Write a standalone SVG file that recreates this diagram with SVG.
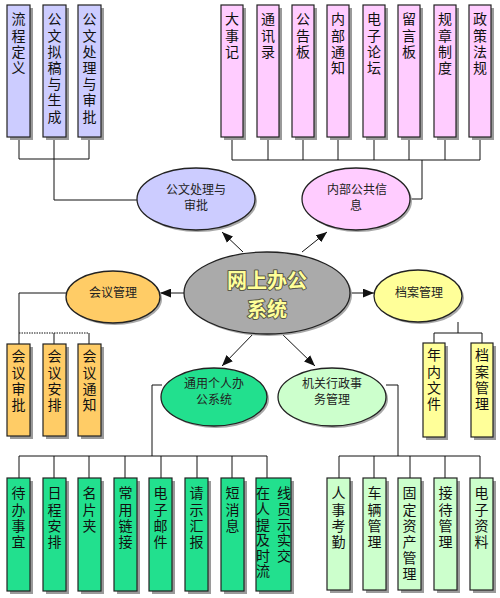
<svg xmlns="http://www.w3.org/2000/svg" width="500" height="598" viewBox="0 0 500 598">
<defs>
<style>
.box{stroke:#222;stroke-width:1.2}
.sh{fill:#9a9a9a}
.bt{font-family:"Noto Sans CJK SC","Noto Sans",sans-serif;font-size:14px;fill:#111;writing-mode:vertical-rl;letter-spacing:2.2px}
.et{font-family:"Noto Sans CJK SC","Noto Sans",sans-serif;font-size:12px;fill:#222;text-anchor:middle}
.ell{stroke:#222;stroke-width:1.3}
.esh{fill:#a8a8a8}
.ln{stroke:#111;stroke-width:1;fill:none}
.ct{font-family:"Noto Sans CJK SC","Noto Sans",sans-serif;font-size:20px;font-weight:bold;text-anchor:middle;fill:#ffff99;stroke:#5a5a4a;stroke-width:2;paint-order:stroke;stroke-linejoin:round}
.lav{fill:#ccccff}.pink{fill:#ffccff}.org{fill:#ffcc66}.yel{fill:#ffff99}.grn{fill:#22e08e}.lgr{fill:#ccffcc}
</style>
<marker id="ah" viewBox="0 0 10 8" refX="10" refY="4" markerWidth="11" markerHeight="9" markerUnits="userSpaceOnUse" orient="auto">
<path d="M0,0 L10,4 L0,8 z" fill="#111"/>
</marker>
</defs>
<rect width="500" height="598" fill="#fff"/>

<g id="connectors">
<path class="ln" d="M19,137V159M54,137V159M89,137V159M19,159H89M54,159V200H137"/>
<path class="ln" d="M232,137V160M268,137V160M303,137V160M338,137V160M374,137V160M409,137V160M445,137V160M480,137V160M232,160H480M422,160V199H410"/>
<path class="ln" d="M66,293H19V344M54,333V344M89,333V344"/>
<path class="ln" d="M19,333H89" stroke-dasharray="1.5 1"/>
<path class="ln" d="M458,322V333M434,333H482M434,333V343M482,333V343"/>
<path class="ln" d="M162,385H152V456M19,456H267M19,456V478M54,456V478M89,456V478M125,456V478M161,456V478M197,456V478M232,456V478M267,456V478"/>
<path class="ln" d="M386,385H398V456M339,456H480M339,456V478M374,456V478M410,456V478M445,456V478M480,456V478"/>
<line class="ln" x1="243" y1="252" x2="222" y2="232" marker-end="url(#ah)"/>
<line class="ln" x1="302" y1="252" x2="327" y2="232" marker-end="url(#ah)"/>
<line class="ln" x1="184" y1="293" x2="160" y2="293" marker-end="url(#ah)"/>
<line class="ln" x1="350" y1="293" x2="374" y2="293" marker-end="url(#ah)"/>
<line class="ln" x1="255" y1="332" x2="222" y2="366" marker-end="url(#ah)"/>
<line class="ln" x1="280" y1="332" x2="315" y2="366" marker-end="url(#ah)"/>
</g>

<!-- top-left lavender boxes -->
<g id="n-liucheng"><rect class="sh" x="10" y="8" width="23" height="132"/><rect class="box lav" x="7" y="5" width="23" height="132"/>
<text class="bt" x="18.5" y="12">流程定义</text></g>
<g id="n-nigao"><rect class="sh" x="46" y="8" width="23" height="132"/><rect class="box lav" x="43" y="5" width="23" height="132"/>
<text class="bt" x="54.5" y="12">公文拟稿与生成</text></g>
<g id="n-chuli"><rect class="sh" x="81" y="8" width="23" height="132"/><rect class="box lav" x="78" y="5" width="23" height="132"/>
<text class="bt" x="89.5" y="12">公文处理与审批</text></g>

<!-- top pink boxes -->
<g id="n-dashiji"><rect class="sh" x="224" y="8" width="22" height="132"/><rect class="box pink" x="221" y="5" width="22" height="132"/>
<text class="bt" x="232" y="12">大事记</text></g>
<g id="n-tongxunlu"><rect class="sh" x="260" y="8" width="22" height="132"/><rect class="box pink" x="257" y="5" width="22" height="132"/>
<text class="bt" x="268" y="12">通讯录</text></g>
<g id="n-gonggaoban"><rect class="sh" x="295" y="8" width="22" height="132"/><rect class="box pink" x="292" y="5" width="22" height="132"/>
<text class="bt" x="303" y="12">公告板</text></g>
<g id="n-neibutongzhi"><rect class="sh" x="330" y="8" width="22" height="132"/><rect class="box pink" x="327" y="5" width="22" height="132"/>
<text class="bt" x="338" y="12">内部通知</text></g>
<g id="n-luntan"><rect class="sh" x="366" y="8" width="22" height="132"/><rect class="box pink" x="363" y="5" width="22" height="132"/>
<text class="bt" x="374" y="12">电子论坛</text></g>
<g id="n-liuyanban"><rect class="sh" x="401" y="8" width="22" height="132"/><rect class="box pink" x="398" y="5" width="22" height="132"/>
<text class="bt" x="409" y="12">留言板</text></g>
<g id="n-guizhang"><rect class="sh" x="437" y="8" width="22" height="132"/><rect class="box pink" x="434" y="5" width="22" height="132"/>
<text class="bt" x="445" y="12">规章制度</text></g>
<g id="n-zhengce"><rect class="sh" x="472" y="8" width="22" height="132"/><rect class="box pink" x="469" y="5" width="22" height="132"/>
<text class="bt" x="480" y="12">政策法规</text></g>

<!-- ellipses -->
<g id="e-gongwen"><ellipse class="esh" cx="198" cy="201" rx="59" ry="31"/><ellipse class="ell lav" cx="196" cy="199" rx="59" ry="31"/>
<text class="et" x="196" y="194">公文处理与</text><text class="et" x="196" y="210">审批</text></g>
<g id="e-neibu"><ellipse class="esh" cx="358" cy="201" rx="54" ry="31"/><ellipse class="ell pink" cx="356" cy="199" rx="54" ry="31"/>
<text class="et" x="357" y="194">内部公共信</text><text class="et" x="356" y="210">息</text></g>
<g id="e-center"><ellipse class="esh" cx="269" cy="295" rx="83" ry="41"/><ellipse class="ell" fill="#aaaaaa" cx="267" cy="293" rx="83" ry="41"/>
<text class="ct" x="267" y="288">网上办公</text><text class="ct" x="267" y="317">系统</text></g>
<g id="e-huiyi"><ellipse class="esh" cx="115" cy="299" rx="47" ry="26"/><ellipse class="ell org" cx="113" cy="297" rx="47" ry="26"/>
<text class="et" x="113" y="297">会议管理</text></g>
<g id="e-dangan"><ellipse class="esh" cx="420" cy="298" rx="44" ry="26"/><ellipse class="ell yel" cx="418" cy="296" rx="44" ry="26"/>
<text class="et" x="419" y="297">档案管理</text></g>
<g id="e-geren"><ellipse class="esh" cx="216" cy="399" rx="53" ry="29"/><ellipse class="ell grn" cx="214" cy="397" rx="53" ry="29"/>
<text class="et" x="214" y="388">通用个人办</text><text class="et" x="214" y="404">公系统</text></g>
<g id="e-xingzheng"><ellipse class="esh" cx="334" cy="399" rx="54" ry="29"/><ellipse class="ell lgr" cx="332" cy="397" rx="54" ry="29"/>
<text class="et" x="332" y="388">机关行政事</text><text class="et" x="332" y="404">务管理</text></g>

<!-- meeting boxes -->
<g id="n-shenpi"><rect class="sh" x="10" y="347" width="23" height="92"/><rect class="box org" x="7" y="344" width="23" height="92"/>
<text class="bt" x="18.5" y="349">会议审批</text></g>
<g id="n-anpai"><rect class="sh" x="46" y="347" width="23" height="92"/><rect class="box org" x="43" y="344" width="23" height="92"/>
<text class="bt" x="54.5" y="349">会议安排</text></g>
<g id="n-tongzhi"><rect class="sh" x="81" y="347" width="23" height="92"/><rect class="box org" x="78" y="344" width="23" height="92"/>
<text class="bt" x="89.5" y="349">会议通知</text></g>

<!-- archive boxes -->
<g id="n-niannei"><rect class="sh" x="426" y="346" width="22" height="94"/><rect class="box yel" x="423" y="343" width="22" height="94"/>
<text class="bt" x="434" y="348">年内文件</text></g>
<g id="n-danganguanli"><rect class="sh" x="474" y="346" width="22" height="94"/><rect class="box yel" x="471" y="343" width="22" height="94"/>
<text class="bt" x="482" y="348">档案管理</text></g>

<!-- personal office boxes -->
<g id="n-daiban"><rect class="sh" x="10" y="481" width="23" height="113"/><rect class="box grn" x="7" y="478" width="23" height="113"/>
<text class="bt" x="18.5" y="486">待办事宜</text></g>
<g id="n-richeng"><rect class="sh" x="46" y="481" width="23" height="113"/><rect class="box grn" x="43" y="478" width="23" height="113"/>
<text class="bt" x="54.5" y="486">日程安排</text></g>
<g id="n-mingpian"><rect class="sh" x="81" y="481" width="23" height="113"/><rect class="box grn" x="78" y="478" width="23" height="113"/>
<text class="bt" x="89.5" y="486">名片夹</text></g>
<g id="n-lianjie"><rect class="sh" x="117" y="481" width="23" height="113"/><rect class="box grn" x="114" y="478" width="23" height="113"/>
<text class="bt" x="125.5" y="486">常用链接</text></g>
<g id="n-youjian"><rect class="sh" x="152" y="481" width="23" height="113"/><rect class="box grn" x="149" y="478" width="23" height="113"/>
<text class="bt" x="160.5" y="486">电子邮件</text></g>
<g id="n-qingshi"><rect class="sh" x="188" y="481" width="23" height="113"/><rect class="box grn" x="185" y="478" width="23" height="113"/>
<text class="bt" x="196.5" y="486">请示汇报</text></g>
<g id="n-duanxiaoxi"><rect class="sh" x="224" y="481" width="23" height="113"/><rect class="box grn" x="221" y="478" width="23" height="113"/>
<text class="bt" x="232.5" y="486">短消息</text></g>
<g id="n-zaixian"><rect class="sh" x="259" y="481" width="35" height="113"/><rect class="box grn" x="256" y="478" width="35" height="113"/>
<text class="bt" x="263" y="486" style="letter-spacing:1.6px">在人提及时流</text>
<text class="bt" x="284" y="486" style="letter-spacing:1.6px">线员示实交</text></g>

<!-- admin boxes -->
<g id="n-kaoqin"><rect class="sh" x="330" y="481" width="23" height="112"/><rect class="box lgr" x="327" y="478" width="23" height="112"/>
<text class="bt" x="338.5" y="486">人事考勤</text></g>
<g id="n-cheliang"><rect class="sh" x="366" y="481" width="23" height="112"/><rect class="box lgr" x="363" y="478" width="23" height="112"/>
<text class="bt" x="374.5" y="486">车辆管理</text></g>
<g id="n-zichan"><rect class="sh" x="401" y="481" width="23" height="112"/><rect class="box lgr" x="398" y="478" width="23" height="112"/>
<text class="bt" x="409.5" y="486">固定资产管理</text></g>
<g id="n-jiedai"><rect class="sh" x="437" y="481" width="23" height="112"/><rect class="box lgr" x="434" y="478" width="23" height="112"/>
<text class="bt" x="445.5" y="486">接待管理</text></g>
<g id="n-ziliao"><rect class="sh" x="473" y="481" width="23" height="112"/><rect class="box lgr" x="470" y="478" width="23" height="112"/>
<text class="bt" x="481.5" y="486">电子资料</text></g>
</svg>
